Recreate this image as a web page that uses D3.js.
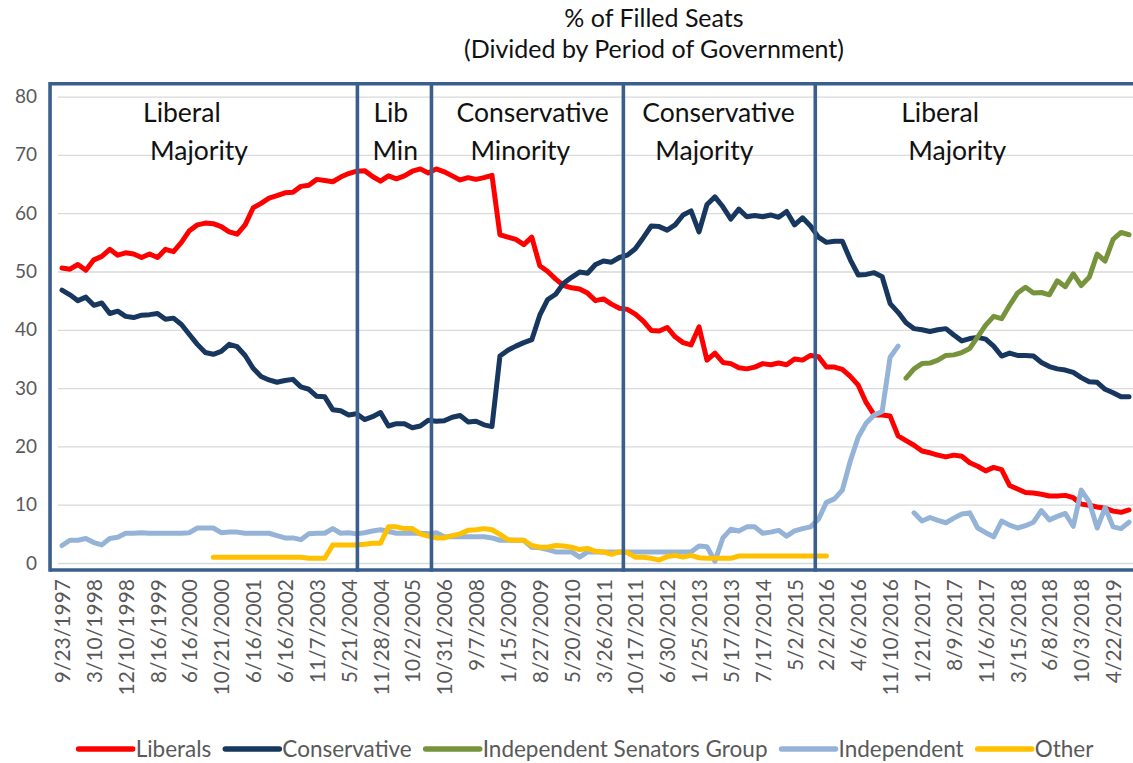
<!DOCTYPE html>
<html><head><meta charset="utf-8">
<script src="https://cdn.jsdelivr.net/npm/d3@7"></script>
<style>
html,body{margin:0;padding:0;background:#fff;}
svg{display:block;font-family:Lato,"Open Sans",sans-serif;}
</style></head><body>
<svg id="chart" width="1133" height="763"></svg>
<script>
// ---------------- DATA ----------------
const titleLines = ["% of Filled Seats", "(Divided by Period of Government)"];
const tickLabels = ["9/23/1997","3/10/1998","12/10/1998","8/16/1999","6/16/2000","10/21/2000","6/16/2001","6/16/2002","11/7/2003","5/21/2004","11/28/2004","10/2/2005","10/31/2006","9/7/2008","1/15/2009","8/27/2009","5/20/2010","3/26/2011","10/17/2011","6/30/2012","1/25/2013","5/17/2013","7/17/2014","5/2/2015","2/2/2016","4/6/2016","11/10/2016","1/21/2017","8/9/2017","11/6/2017","3/15/2018","6/8/2018","10/3/2018","4/22/2019"];
const pointsPerTick = 4;
const yTicks = [0,10,20,30,40,50,60,70,80];

const liberals = [50.6,50.4,51.2,50.2,52.0,52.6,53.8,52.8,53.2,53.0,
 52.4,53.0,52.4,53.8,53.4,55.0,57.0,58.0,58.3,58.2,
 57.7,56.8,56.4,58.0,60.9,61.7,62.6,63.0,63.5,63.6,
 64.6,64.8,65.8,65.6,65.4,66.2,66.8,67.2,67.3,66.3,
 65.5,66.4,65.9,66.4,67.2,67.6,66.9,67.6,67.1,66.4,
 65.7,66.1,65.8,66.1,66.5,56.3,55.9,55.5,54.6,55.9,
 51.0,50.0,48.7,47.6,47.2,47.0,46.3,45.0,45.3,44.4,
 43.7,43.5,42.7,41.5,39.9,39.8,40.4,38.8,37.8,37.4,
 40.5,34.8,36.0,34.4,34.2,33.5,33.3,33.6,34.2,34.0,
 34.3,34.0,35.0,34.8,35.6,35.4,33.6,33.6,33.2,32.0,
 30.5,27.5,25.4,25.4,25.2,21.8,21.0,20.2,19.2,18.9,
 18.5,18.2,18.5,18.3,17.2,16.6,15.8,16.4,16.0,13.3,
 12.7,12.1,12.0,11.8,11.5,11.5,11.6,11.2,10.1,9.9,
 9.6,9.4,8.9,8.7,9.1];

const conservative = [46.8,46.0,45.0,45.6,44.2,44.6,42.8,43.2,42.3,42.1,
 42.5,42.6,42.8,41.8,42.0,40.9,39.2,37.5,36.1,35.8,
 36.3,37.5,37.1,35.6,33.4,32.0,31.4,31.0,31.3,31.5,
 30.2,29.8,28.6,28.5,26.3,26.1,25.4,25.6,24.6,25.1,
 25.8,23.5,23.9,23.9,23.2,23.5,24.5,24.3,24.4,25.0,
 25.3,24.2,24.3,23.7,23.4,35.5,36.5,37.2,37.8,38.3,
 42.5,45.2,46.1,48.0,49.0,49.9,49.7,51.2,51.8,51.6,
 52.4,52.8,53.9,55.8,57.8,57.7,57.1,58.0,59.7,60.4,
 56.8,61.5,62.8,61.1,59.0,60.7,59.4,59.6,59.4,59.7,
 59.3,60.3,58.0,59.2,57.8,55.9,55.0,55.2,55.2,52.0,
 49.4,49.5,49.8,49.1,44.5,43.0,41.2,40.2,40.0,39.7,
 40.0,40.2,39.1,38.1,38.5,38.7,38.4,37.2,35.5,36.0,
 35.6,35.6,35.5,34.4,33.7,33.3,33.1,32.7,31.8,31.1,
 31.0,29.8,29.2,28.5,28.5];

const isgStartIndex = 106;
const isgValues = [31.7,33.3,34.2,34.3,34.8,35.6,35.7,36.1,36.8,38.8,
 40.8,42.3,41.9,44.2,46.3,47.3,46.3,46.4,46.0,48.4,
 47.4,49.6,47.6,49.0,53.0,51.8,55.5,56.7,56.3];

const independent = [3.0,3.9,3.9,4.2,3.5,3.1,4.2,4.4,5.1,5.1,
 5.2,5.1,5.1,5.1,5.1,5.1,5.2,6.0,6.0,6.0,
 5.2,5.3,5.3,5.1,5.1,5.1,5.1,4.7,4.3,4.3,
 4.0,5.0,5.1,5.1,5.9,5.1,5.2,5.0,5.2,5.5,
 5.7,5.4,5.1,5.1,5.1,5.1,5.0,5.2,4.5,4.5,
 4.5,4.5,4.5,4.5,4.3,3.9,3.9,3.9,3.9,2.7,
 2.6,2.3,1.9,1.9,1.9,1.0,1.9,1.9,1.9,1.9,
 1.9,1.9,1.9,1.9,1.9,1.9,1.9,1.9,1.9,1.9,
 2.9,2.8,0.3,4.3,5.8,5.5,6.2,6.2,5.1,5.3,
 5.6,4.6,5.5,5.9,6.2,7.5,10.4,11.0,12.5,17.5,
 21.6,24.0,25.4,26.0,35.3,37.2,null,8.6,7.2,7.8,
 7.3,6.9,7.7,8.4,8.6,6.0,5.2,4.5,7.2,6.5,
 6.0,6.4,7.0,9.0,7.4,8.0,8.5,6.3,12.5,10.5,
 6.0,9.5,6.2,5.9,7.0];

const otherStartIndex = 19;
const otherValues = [1.0,1.0,1.0,1.0,1.0,1.0,1.0,1.0,1.0,1.0,1.0,1.0,
 0.8,0.8,0.8,
 3.1,3.1,3.1,3.1,
 3.2,3.4,3.4,
 6.2,6.2,5.9,5.9,
 5.0,4.6,4.3,4.3,4.7,5.0,
 5.6,5.7,5.9,5.7,4.9,4.0,3.9,3.9,
 3.0,2.7,2.7,3.0,2.9,2.7,2.3,2.5,
 2.0,1.9,1.5,1.9,1.8,1.0,1.0,0.8,
 0.5,1.1,1.3,1.0,1.3,0.9,0.8,0.8,0.8,0.8,
 1.2,1.2,1.2,1.2,1.2,1.2,1.2,1.2,1.2,1.2,1.2,1.2];

const seriesNames = ["Liberals","Conservative","Independent Senators Group","Independent","Other"];
const seriesColors = ["#FF0000","#17375E","#77933C","#95B3D7","#FFC000"];

// government periods (in category-index units)
const periodBounds = [-1.5, 37.1, 46.4, 70.5, 94.6, 136.5];
const periodLabels = [["Liberal","Majority"],["Lib","Min"],["Conservative","Minority"],["Conservative","Majority"],["Liberal","Majority"]];
const frameTop = 82.2, frameBottom = -1.2;

// ---------------- LAYOUT ----------------
const plotLeft = 58, plotRight = 1133, plotTop = 96.6, plotBottom = 563;
const labelOffsets = [[93,100],[16,15],[25,39],[19,32],[86,93]];
const svg = d3.select("#chart");

const N = liberals.length;
const x = d3.scaleLinear().domain([-0.5, N - 0.5]).range([plotLeft, plotRight]);
const y = d3.scaleLinear().domain([0, 80]).range([plotBottom, plotTop]);

function seriesFrom(start, vals){ return vals.map((v,k)=>({i:start+k, v})); }
const seriesData = [
  seriesFrom(0, liberals),
  seriesFrom(0, conservative),
  seriesFrom(isgStartIndex, isgValues),
  seriesFrom(0, independent),
  seriesFrom(otherStartIndex, otherValues)
];

// title
svg.append("g").selectAll("text").data(titleLines).join("text")
  .attr("x", 654).attr("y", (d,k)=> 27 + k*31)
  .attr("text-anchor","middle").attr("font-size", 25).attr("fill","#111")
  .text(d=>d);

// y axis with gridlines
const yAxis = svg.append("g").attr("transform", `translate(${plotLeft},0)`)
  .call(d3.axisLeft(y).tickValues(yTicks).tickSize(-(plotRight-plotLeft)).tickPadding(21));
yAxis.select(".domain").remove();
yAxis.selectAll("line").attr("stroke","#D9D9D9").attr("stroke-width",1.3);
yAxis.selectAll("text").attr("font-size",19).attr("fill","#595959").attr("font-family","Lato, sans-serif");

// x axis labels
const xAxisY = y(frameBottom);
const xAxis = svg.append("g").attr("transform", `translate(0,${xAxisY})`)
  .call(d3.axisBottom(x).tickValues(tickLabels.map((_,k)=>k*pointsPerTick))
     .tickFormat(i => tickLabels[i/pointsPerTick]).tickSize(0));
xAxis.select(".domain").remove();
xAxis.selectAll("text")
  .attr("transform","rotate(-90)")
  .attr("x",-9).attr("y",0).attr("dy","0.36em")
  .style("text-anchor","end")
  .attr("font-size",21).attr("fill","#595959").attr("font-family","Lato, sans-serif");

// lines
const line = d3.line().defined(d=>d.v!=null).x(d=>x(d.i)).y(d=>y(d.v));
svg.append("g").selectAll("path").data(seriesData).join("path")
  .attr("d", line).attr("fill","none")
  .attr("stroke",(d,k)=>seriesColors[k])
  .attr("stroke-width",5).attr("stroke-linejoin","round").attr("stroke-linecap","round");

// frame and period dividers
const frame = svg.append("g").attr("stroke","#3A5F8F").attr("stroke-width",3.6).attr("fill","none");
frame.append("line").attr("x1",x(periodBounds[0])).attr("x2",x(periodBounds[periodBounds.length-1]))
  .attr("y1",y(frameTop)).attr("y2",y(frameTop));
frame.append("line").attr("x1",x(periodBounds[0])).attr("x2",x(periodBounds[periodBounds.length-1]))
  .attr("y1",y(frameBottom)).attr("y2",y(frameBottom));
frame.selectAll("line.div").data(periodBounds.slice(0,-1)).join("line").attr("class","div")
  .attr("x1",d=>x(d)).attr("x2",d=>x(d)).attr("y1",y(frameTop)-1.8).attr("y2",y(frameBottom)+1.8);

// period labels
const pl = svg.append("g").attr("font-size",26.5).attr("fill","#111");
periodLabels.forEach((lines,k)=>{
  lines.forEach((t,j)=>{
    pl.append("text").attr("x", x(periodBounds[k]) + labelOffsets[k][j]).attr("y", 122 + j*38).text(t);
  });
});

// legend
const lg = svg.append("g").attr("font-size",22.5).attr("fill","#595959");
let cx = 0;
seriesNames.forEach((name,k)=>{
  const g = lg.append("g");
  g.append("line").attr("x1",cx).attr("x2",cx+54).attr("y1",0).attr("y2",0)
    .attr("stroke",seriesColors[k]).attr("stroke-width",5.5).attr("stroke-linecap","round");
  const t = g.append("text").attr("x",cx+57).attr("y",0).attr("dy","0.35em").text(name);
  cx += 57 + t.node().getComputedTextLength() + 14;
});
const total = cx - 14;
lg.attr("transform",`translate(${586 - total/2},749)`);
</script>
</body></html>
